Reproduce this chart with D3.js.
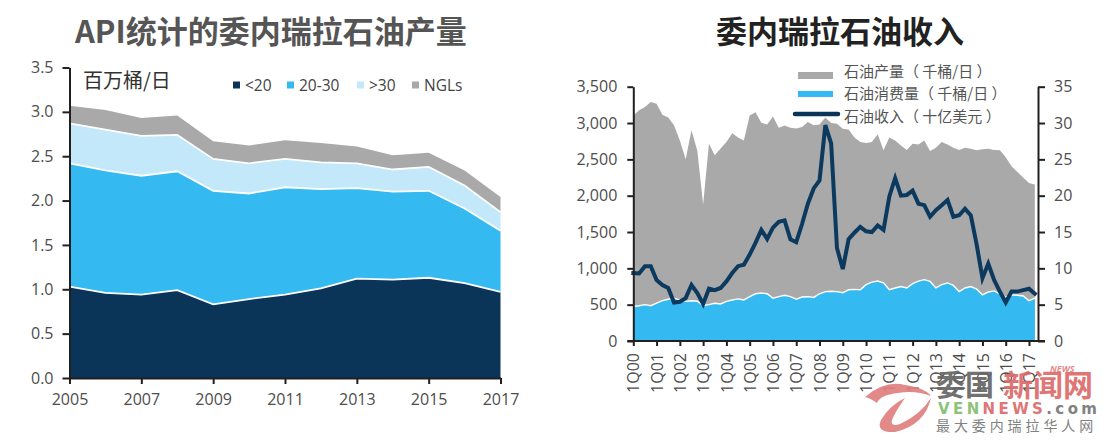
<!DOCTYPE html>
<html>
<head>
<meta charset="utf-8">
<script src="https://cdn.jsdelivr.net/npm/d3@7"></script>
<style>
  html, body { margin: 0; padding: 0; background: #fff; }
  svg { display: block; }
  text { font-family: "Open Sans", sans-serif; }
  .cjk { font-family: "Noto Sans CJK SC", sans-serif; }
  .axis path, .axis line { stroke: #231f20; stroke-width: 2; }
  .axis text { font-size: 16px; fill: #4d4d4d; }
</style>
</head>
<body>
<div id="chart"></div>
<script>
/* left chart: API gravity bands, million bbl/d */
var years     = [2005,2006,2007,2008,2009,2010,2011,2012,2013,2014,2015,2016,2017];
var lt20      = [1.03,0.96,0.94,0.99,0.83,0.89,0.94,1.01,1.12,1.11,1.13,1.07,0.97];
var api2030   = [1.39,1.38,1.34,1.34,1.28,1.19,1.21,1.12,1.02,0.99,0.98,0.84,0.69];
var gt30      = [0.45,0.46,0.45,0.41,0.36,0.34,0.32,0.30,0.28,0.25,0.27,0.26,0.21];
var ngls      = [0.20,0.22,0.20,0.22,0.20,0.20,0.21,0.22,0.19,0.16,0.16,0.17,0.17];
var leftNames = ["<20","20-30",">30","NGLs"];
var leftYTicks = [0,0.5,1,1.5,2,2.5,3,3.5];
var leftXTicks = [2005,2007,2009,2011,2013,2015,2017];

/* right chart: quarterly, 1Q00 to 2Q17 */
var production = [3105,3175,3220,3290,3265,3115,3075,2970,2760,2500,2900,2620,1880,2715,2555,2650,2740,2860,2800,2760,
                  3105,3150,3005,2980,3090,2935,2965,2935,2925,2945,3015,2970,2980,3075,3000,2990,2920,2910,2800,2740,
                  2725,2740,2845,2625,2800,2760,2690,2630,2715,2705,2760,2615,2660,2740,2705,2660,2630,2660,2645,2625,
                  2640,2645,2630,2625,2530,2405,2325,2250,2175,2155];
var consumption = [475,485,500,485,520,555,575,590,565,545,553,548,490,500,520,510,545,565,580,565,
                   610,650,660,650,590,610,630,610,575,605,610,600,650,680,685,680,665,705,710,705,
                   775,810,825,800,705,730,750,730,790,825,845,820,730,775,800,765,680,730,750,715,
                   635,675,690,650,605,635,630,620,555,590];
var revenue = [9.35,9.3,10.3,10.3,8.4,7.7,7.3,5.3,5.4,5.9,7.7,6.6,5.1,7.2,7.0,7.3,8.2,9.35,10.3,10.5,
               11.9,13.5,15.3,14.05,15.6,16.4,16.6,14,13.6,16.1,18.9,21,22.1,29.7,27.2,12.8,9.9,14,14.9,15.7,
               15.1,15,15.9,15.3,19.9,22.4,20,20.1,20.7,18.9,18.7,17.1,18,18.7,19.4,17.1,17.3,18.2,17.3,13.3,
               8.65,10.65,8.4,6.8,5.3,6.8,6.8,7,7.2,6.5];
var quarterTicks  = [0,4,8,12,16,20,24,28,32,36,40,44,48,52,56,60,64,68];
var quarterLabels = ["1Q00","1Q01","1Q02","1Q03","1Q04","1Q05","1Q06","1Q07","1Q08","1Q09","1Q10","1Q11","1Q12","1Q13","1Q14","1Q15","1Q16","1Q17"];
var volumeTicks  = [0,500,1000,1500,2000,2500,3000,3500];
var revenueTicks = [0,5,10,15,20,25,30,35];
var rightNames = ["石油产量（ 千桶/日 ）","石油消费量（ 千桶/日 ）","石油收入（ 十亿美元 ）"];

var navy = "#0b3558", blue = "#35b9f1", pale = "#c2e8fa", gray = "#a9a9a9";

(function( ) {
    "use strict";

    var svg = d3.select("#chart").append("svg").attr("width", 1104).attr("height", 440);

    /* ---- titles ---- */
    svg.append("text").attr("class", "cjk").attr("x", 75).attr("y", 43)
        .style("font-size", "31px").style("font-weight", 700).attr("fill", "#555")
        .text("API统计的委内瑞拉石油产量");
    svg.append("text").attr("class", "cjk").attr("x", 716).attr("y", 43)
        .style("font-size", "31px").style("font-weight", 700).attr("fill", "#222")
        .text("委内瑞拉石油收入");

    /* ---- left chart ---- */
    var lx = d3.scaleLinear().domain([2005, 2017]).range([69.5, 500.5]),
        ly = d3.scaleLinear().domain([0, 3.5]).range([378, 67.5]);

    var rows = years.map(function( y, i ) {
        return { year: y, "<20": lt20[i], "20-30": api2030[i], ">30": gt30[i], "NGLs": ngls[i] };
    });
    var stacked = d3.stack().keys(leftNames)(rows),
        leftColors = d3.scaleOrdinal().domain(leftNames).range([navy, blue, pale, gray]);

    var band = d3.area()
        .x(function( d ) { return lx(d.data.year); })
        .y0(function( d ) { return ly(d[0]); })
        .y1(function( d ) { return ly(d[1]); });

    svg.append("g").selectAll("path").data(stacked).join("path")
        .attr("d", band)
        .attr("fill", function( d ) { return leftColors(d.key); });

    /* white seams between the bands */
    var seam = d3.line()
        .x(function( d ) { return lx(d.data.year); })
        .y(function( d ) { return ly(d[1]); });
    svg.append("g").selectAll("path").data(stacked.slice(0, 3)).join("path")
        .attr("d", seam).attr("fill", "none").attr("stroke", "#fff").attr("stroke-width", 1.8);

    svg.append("g").attr("class", "axis").attr("transform", "translate(69.5,0)")
        .call(d3.axisLeft(ly).tickValues(leftYTicks).tickFormat(d3.format(".1f")).tickSize(7).tickPadding(9).tickSizeOuter(0));
    svg.append("g").attr("class", "axis").attr("transform", "translate(0,378)")
        .call(d3.axisBottom(lx).tickValues(leftXTicks).tickFormat(d3.format("d")).tickSize(6).tickPadding(10).tickSizeOuter(0));

    svg.append("text").attr("class", "cjk").attr("x", 83).attr("y", 88)
        .style("font-size", "20px").attr("fill", "#333").text("百万桶/日");

    var legendX = [233, 287, 357, 412];
    var leg = svg.append("g").selectAll("g").data(leftNames).join("g")
        .attr("transform", function( d, i ) { return "translate(" + legendX[i] + ",85)"; });
    leg.append("rect").attr("x", 0).attr("y", -3.5).attr("width", 7).attr("height", 7)
        .attr("fill", function( d ) { return leftColors(d); });
    leg.append("text").attr("x", 12).attr("y", 5.5).style("font-size", "15.5px").attr("fill", "#444")
        .text(function( d ) { return d; });

    /* ---- right chart ---- */
    var rx = d3.scaleLinear().domain([0, 68]).range([633.3, 1029]),
        vol = d3.scaleLinear().domain([0, 3500]).range([341, 86.7]),
        rev = d3.scaleLinear().domain([0, 35]).range([341, 86.7]);

    var volArea = function( values ) {
        return d3.area()
            .x(function( d, i ) { return rx(i); })
            .y0(vol(0))
            .y1(function( d ) { return vol(d); })(values);
    };

    svg.append("path").attr("d", volArea(production)).attr("fill", gray);
    svg.append("path").attr("d", volArea(consumption)).attr("fill", blue);
    svg.append("path")
        .attr("d", d3.line().x(function( d, i ) { return rx(i); }).y(function( d ) { return vol(d); })(consumption))
        .attr("fill", "none").attr("stroke", "#fff").attr("stroke-width", 1.4);
    svg.append("path")
        .attr("d", d3.line().x(function( d, i ) { return rx(i); }).y(function( d ) { return rev(d); })(revenue))
        .attr("fill", "none").attr("stroke", "#0c3a5f").attr("stroke-width", 4).attr("stroke-linecap", "square");

    svg.append("g").attr("class", "axis").attr("transform", "translate(633.3,0)")
        .call(d3.axisLeft(vol).tickValues(volumeTicks).tickFormat(d3.format(",")).tickSize(6).tickPadding(10).tickSizeOuter(0));
    svg.append("g").attr("class", "axis").attr("transform", "translate(1038,0)")
        .call(d3.axisRight(rev).tickValues(revenueTicks).tickSize(7).tickPadding(9).tickSizeOuter(0));

    var qAxis = svg.append("g").attr("class", "axis").attr("transform", "translate(0,341)")
        .call(d3.axisBottom(rx).tickValues(quarterTicks)
            .tickFormat(function( d ) { return quarterLabels[quarterTicks.indexOf(d)]; })
            .tickSize(5).tickSizeOuter(0));
    qAxis.select(".domain").attr("d", "M" + (rx(0) - 6) + ",0H1045");
    qAxis.selectAll("text")
        .attr("transform", "rotate(-90)")
        .attr("text-anchor", "end")
        .attr("x", -12).attr("y", 0).attr("dy", "0.35em")
        .style("font-size", "16px");

    /* legend */
    svg.append("rect").attr("x", 798).attr("y", 72).attr("width", 35).attr("height", 7).attr("fill", gray);
    svg.append("rect").attr("x", 798).attr("y", 91).attr("width", 35).attr("height", 6).attr("fill", blue);
    svg.append("line").attr("x1", 795).attr("x2", 838).attr("y1", 114).attr("y2", 114)
        .attr("stroke", navy).attr("stroke-width", 4.5).attr("stroke-linecap", "round");
    svg.append("g").selectAll("text").data(rightNames).join("text")
        .attr("class", "cjk").attr("x", 844)
        .attr("y", function( d, i ) { return [77, 99, 122][i]; })
        .style("font-size", "15px").attr("fill", "#555")
        .text(function( d ) { return d; });

    /* ---- site watermark, bottom right ---- */
    var mark = svg.append("g").attr("opacity", 0.92);
    mark.append("path").attr("fill", "#e07f7f")
        .attr("d", "M865,397 Q885,380 905,385 Q925,388 931,396 Q915,390 898,393 Q880,395 877,403 Q870,398 865,397 Z");
    mark.append("path").attr("fill", "#e07f7f")
        .attr("d", "M931,398 Q925,425 895,432 Q875,433 881,420 Q890,405 905,398 Q895,412 892,420 Q890,427 900,424 Q920,415 931,398 Z");
    mark.append("text").attr("class", "cjk").attr("x", 936).attr("y", 396)
        .style("font-size", "29px").style("font-weight", 700).attr("fill", "#666").text("委国");
    mark.append("text").attr("class", "cjk").attr("x", 1003).attr("y", 396)
        .style("font-size", "30px").style("font-weight", 700).attr("fill", "#dc6b6b").text("新闻网");
    mark.append("text").attr("x", 1050).attr("y", 372)
        .style("font-size", "9px").style("font-weight", 700).style("font-style", "italic").attr("fill", "#e07f7f").text("NEWS");
    var site = mark.append("text").attr("x", 938).attr("y", 414)
        .style("font-family", "'DejaVu Sans', sans-serif").style("font-size", "15px").style("font-weight", 700)
        .attr("textLength", 159).attr("lengthAdjust", "spacing");
    site.append("tspan").attr("fill", "#84bd6e").text("VEN");
    site.append("tspan").attr("fill", "#dc6b6b").text("NEWS");
    site.append("tspan").attr("fill", "#777").text(".com");
    mark.append("text").attr("class", "cjk").attr("x", 936).attr("y", 431)
        .style("font-size", "14px").style("letter-spacing", "3.9px").attr("fill", "#777").text("最大委内瑞拉华人网");
})( );
</script>
</body>
</html>
